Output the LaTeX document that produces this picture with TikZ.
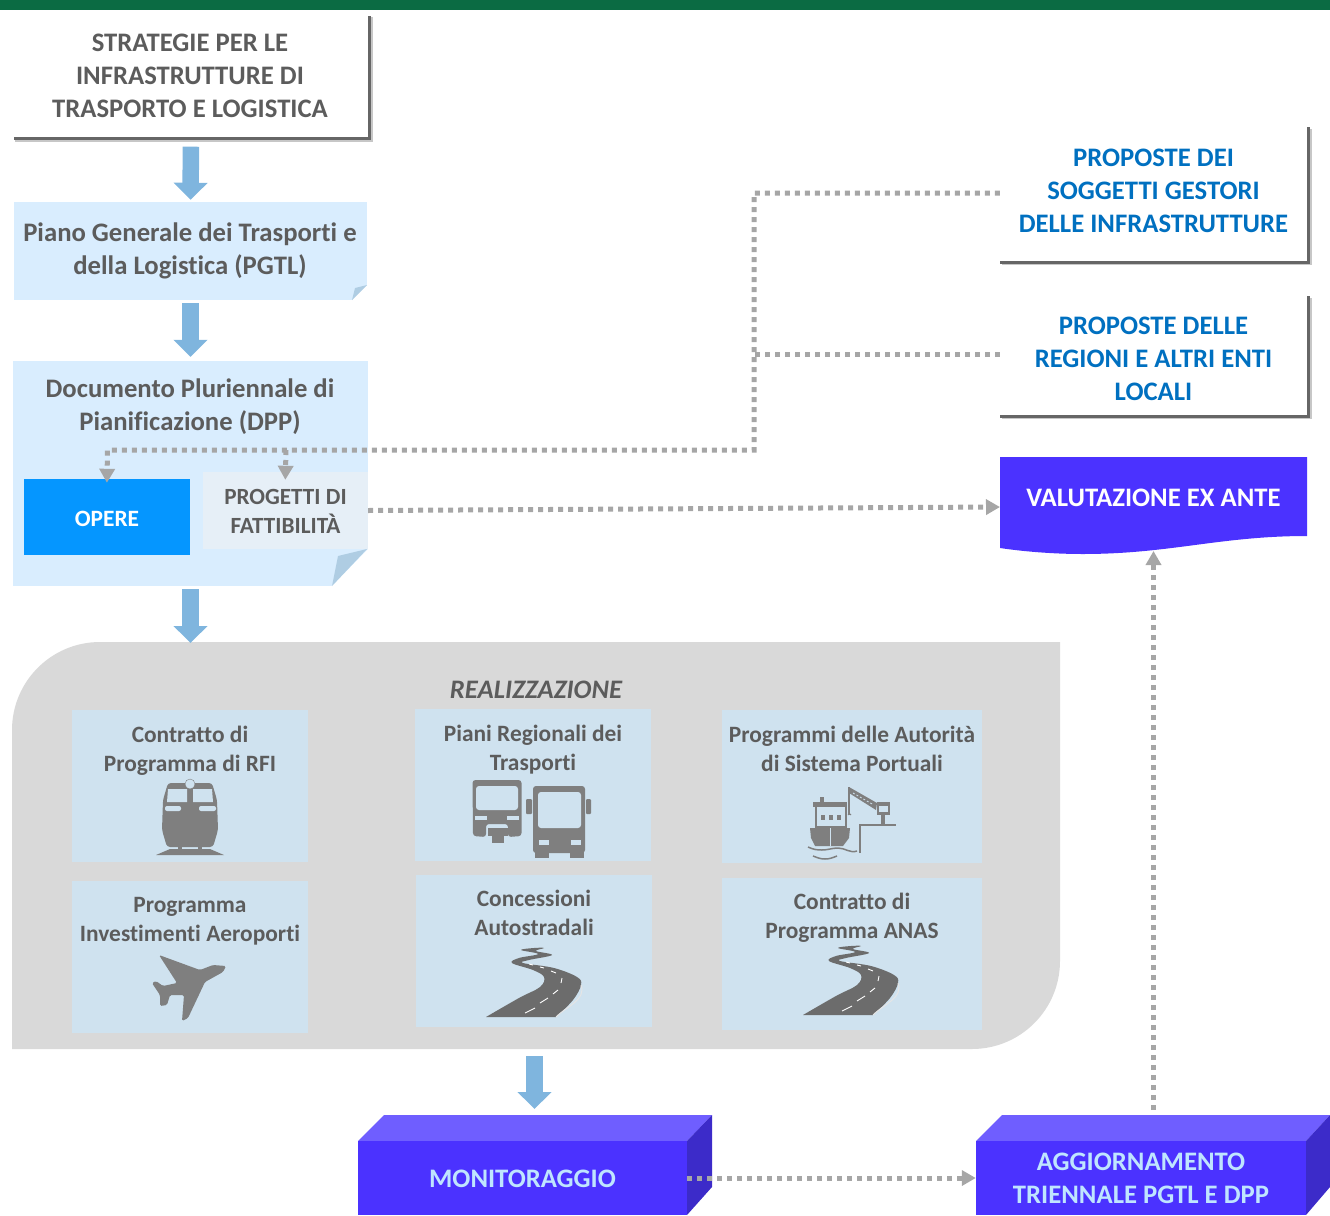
\documentclass[tikz,border=0pt]{standalone}
\usepackage{fontspec}
\setmainfont[Ligatures=NoCommon]{Carlito}
\usetikzlibrary{arrows.meta,shadows}

\definecolor{topgreen}{HTML}{0B6B43}
\definecolor{txtgray}{HTML}{5C5C5C}
\definecolor{txtblue}{HTML}{0070C0}
\definecolor{notefill}{HTML}{D9EDFE}
\definecolor{foldblue}{HTML}{AFCDE3}
\definecolor{arrowblue}{HTML}{7FB5DE}
\definecolor{operefill}{HTML}{0596FF}
\definecolor{progfill}{HTML}{E6EFF7}
\definecolor{violetfront}{HTML}{4B32FF}
\definecolor{violettop}{HTML}{6F5EFF}
\definecolor{violetside}{HTML}{3C2BC9}
\definecolor{boxtxt}{HTML}{BFE5FF}
\definecolor{regiongray}{HTML}{D9D9D9}
\definecolor{cellblue}{HTML}{CFE2EF}
\definecolor{icongray}{HTML}{7F7F7F}
\definecolor{dotgray}{HTML}{A6A6A6}

% Icons, in picture coordinates
\newcommand{\trainicon}{
    \fill[icongray, rounded corners=3pt] (168,783) -- (212,783) -- (217,800) -- (218,830) -- (213,847) -- (167,847) -- (162,830) -- (163,800) -- cycle;
    \fill[cellblue] (168,789) -- (187,789) -- (187,802) -- (167,802) -- cycle;
    \fill[cellblue] (193,789) -- (212,789) -- (213,802) -- (193,802) -- cycle;
    \fill[cellblue, rounded corners=2pt] (165,806) rectangle (181,811);
    \fill[cellblue, rounded corners=2pt] (199,806) rectangle (216,811);
    \draw[icongray, fill=cellblue] (190,784) circle (5);
    \fill[icongray] (156,855) -- (170,849) -- (210,849) -- (224,855) -- cycle;
    \fill[icongray] (178,846) rectangle (182,851);
    \fill[icongray] (198,846) rectangle (202,851);
}
\newcommand{\busicon}{
    \fill[icongray, rounded corners=3pt] (472.5,780) -- (521.5,780) -- (521.5,836) -- (508,837) -- (508,824) -- (486,824) -- (486,837) -- (473,836) -- cycle;
    \fill[cellblue, rounded corners=3pt] (476,786) rectangle (518,810);
    \fill[cellblue] (475,816) rectangle (487,820);
    \fill[cellblue] (507,816) rectangle (519,820);
    \fill[icongray] (488,828) rectangle (508,836);
    \fill[icongray] (492,836) rectangle (504,843);
    \fill[icongray, rounded corners=3pt] (533,786) rectangle (585,853);
    \fill[icongray] (535,850) rectangle (549,858);
    \fill[icongray] (570,850) rectangle (584,858);
    \fill[icongray, rounded corners=1pt] (526,799) rectangle (532,814);
    \fill[icongray, rounded corners=1pt] (586,799) rectangle (591,814);
    \fill[cellblue, rounded corners=3pt] (538,792) rectangle (581,828);
    \fill[cellblue] (539,840) rectangle (549,845);
    \fill[cellblue] (571,840) rectangle (581,845);
}
\newcommand{\shipicon}{
    \fill[icongray] (810,828) -- (850,828) -- (849,838) -- (843,846) -- (815,846) -- (811,838) -- cycle;
    \draw[cellblue, line width=1pt] (830,828) -- (830,846);
    \fill[icongray] (813,802) rectangle (847,807);
    \fill[icongray] (820,797) rectangle (824,802);
    \draw[icongray, line width=2pt] (816,807) -- (816,827) -- (846,827) -- (846,807);
    \foreach \wx in {821,829,837}
        \fill[icongray] (\wx,815) rectangle ++(4,5);
    \draw[icongray, line width=1.5pt] (808,847) to[out=-25,in=180] (822,850) to[out=0,in=180] (838,848) to[out=0,in=200] (857,851);
    \draw[icongray, line width=1.5pt] (813,856) to[out=-20,in=180] (825,859) to[out=0,in=200] (837,856);
    % crane on the quay
    \draw[icongray, line width=2pt] (860,853) -- (860,825) -- (896,825);
    \fill[icongray] (881,815) rectangle (885,825);
    \fill[icongray] (877,802) rectangle (890,815);
    \fill[cellblue] (879,806) rectangle (888,812);
    \draw[icongray, line width=1.2pt] (849,787) -- (849,815);
    \draw[icongray, line width=1pt] (851,815) arc (0:-180:1.5);
    \fill[icongray] (849,787) -- (877,803) -- (876,810) -- (849,793) -- cycle;
    \draw[cellblue, line width=0.8pt, dash pattern=on 2pt off 2pt] (853,793) -- (873,804.5);
}
\newcommand{\planeicon}{
    \fill[icongray, rounded corners=1.5pt] (226,966) -- (213,965) -- (200,970) -- (159,955) -- (177,983) -- (163,986) -- (156,981) -- (152,983) -- (160,995) -- (160,1006) -- (167,1005) -- (170,995) -- (184,995) -- (182,1021) -- (188,1018) -- (205,982) -- (223,972) -- cycle;
}
\newcommand{\roadicon}[1]{
    \begin{scope}[shift={#1}]
        \fill[icongray!85!black] plot[smooth, tension=0.6] coordinates {(486,1017) (519,998) (540,987) (544,977) (533,970) (512,963) (519,958) (538,954) (521,950) (534,948) (544,948) (536,951) (552,955) (529,960) (523,963) (554,968) (577,977) (581,985) (573,1000) (556,1017)} -- cycle;
        \draw[white!80!icongray, line width=1pt] (581,985) to[out=-70,in=45] (556,1017);
        \draw[white, line width=0.9pt] (525,1013) -- (535,1008) (540,1003) -- (548,998) (553,994) -- (558,990) (561,983) -- (562,978) (556,973) -- (551,971) (544,968) -- (540,967) (533,965) -- (529,964);
    \end{scope}
}

\begin{document}
\begin{tikzpicture}[x=1pt, y=-1pt,
    font=\bfseries\fontsize{26.7}{33}\selectfont, text=txtgray,
    box/.style={inner sep=0pt, align=center},
    whitebox/.style={box, fill=white,
        drop shadow={shadow xshift=3pt, shadow yshift=-4pt, shadow scale=1.01, fill=black!22, opacity=1},
        drop shadow={shadow xshift=1.5pt, shadow yshift=-2.5pt, shadow scale=1.01, fill=black!60, opacity=1}},
    notebox/.style={box, fill=notefill},
    cellbox/.style={box, fill=cellblue, minimum height=152pt},
    celltext/.style={box, font=\bfseries\fontsize{23.4}{29}\selectfont},
    solidbox/.style={box, fill=violetfront, text=boxtxt, minimum height=74pt, minimum width=329pt},
    blockarrow/.style={draw=arrowblue, line width=16.5pt, -{Triangle[length=17pt,width=33pt]}},
    dotline/.style={draw=dotgray, line width=5pt, dash pattern=on 5pt off 5pt},
    dotarrow/.style={dotline, -{Triangle[length=14pt,width=15pt]}}]

    \useasboundingbox (0,0) rectangle (1330,1215);
    \fill[topgreen] (0,0) rectangle (1330,10);

    % Left column
    \node[whitebox, minimum width=354pt, minimum height=123pt] (strat) at (191,75.5) {};
    \node[box] (strattxt) at (190,75.5) {STRATEGIE PER LE\\INFRASTRUTTURE DI\\TRASPORTO E LOGISTICA};
    \node[notebox, minimum width=353pt, minimum height=98pt] (pgtl) at (190.5,251) {};
    \node[box] (pgtltxt) at (190,251) {Piano Generale dei Trasporti e\\della Logistica (PGTL)};
    \fill[white] (352,300) -- (367,285) -- (367.5,300.5) -- cycle;
    \fill[foldblue] (352,300) -- (367,285) -- (355,288) -- cycle;

    \node[notebox, minimum width=355pt, minimum height=225pt] (dpp) at (190.5,473.5) {};
    \node[box] (dpptxt) at (190,407) {Documento Pluriennale di\\Pianificazione (DPP)};
    \fill[white] (332,586) -- (368,549) -- (368.5,586.5) -- cycle;
    \fill[foldblue] (332,586) -- (367,549) -- (338,556) -- cycle;

    \node[box, fill=operefill, minimum width=166pt, minimum height=76pt] (opere) at (107,517) {};
    \node[box, text=white, font=\bfseries\fontsize{23.4}{29}\selectfont] (operetxt) at (107,519) {OPERE};
    \node[box, fill=progfill, minimum width=165pt, minimum height=77pt] (prog) at (285.5,510.5) {};
    \node[box, font=\bfseries\fontsize{23.2}{29}\selectfont] (progtxt) at (285.5,511) {PROGETTI DI\\FATTIBILITÀ};

    % Grey area
    \fill[regiongray] (12,730) arc (180:270:88) -- (1060,642) -- (1060,961) arc (0:90:88) -- (12,1049) -- cycle;
    \node[box, font=\bfseries\itshape\fontsize{26.7}{33}\selectfont] (realiz) at (536,690) {REALIZZAZIONE};
    \coordinate (regiontop) at (190.5,642);
    \coordinate (regionbot) at (534.5,1049);

    \node[cellbox, minimum width=236pt] (rfi) at (190,786) {};
    \node[cellbox, minimum width=236pt] (piani) at (533,785) {};
    \node[cellbox, minimum width=260pt, minimum height=153pt] (port) at (852,786.5) {};
    \node[cellbox, minimum width=236pt] (aero) at (190,957) {};
    \node[cellbox, minimum width=236pt] (conc) at (534,951) {};
    \node[cellbox, minimum width=260pt] (anas) at (852,954) {};

    \node[celltext] (rfitxt) at (190,751) {Contratto di\\Programma di RFI};
    \node[celltext] (pianitxt) at (533,750) {Piani Regionali dei\\Trasporti};
    \node[celltext] (porttxt) at (852,749) {Programmi delle Autorità\\di Sistema Portuali};
    \node[celltext] (aerotxt) at (190,921) {Programma\\Investimenti Aeroporti};
    \node[celltext] (conctxt) at (534,913) {Concessioni\\Autostradali};
    \node[celltext] (anastxt) at (852,918) {Contratto di\\Programma ANAS};

    \trainicon
    \busicon
    \shipicon
    \planeicon
    \roadicon{(0,0)}
    \roadicon{(317,-2)}

    % Right column
    \node[whitebox, minimum width=307pt, minimum height=135pt] (prop1) at (1153.5,193) {};
    \node[box, text=txtblue] (prop1txt) at (1153.5,190.5) {PROPOSTE DEI\\SOGGETTI GESTORI\\DELLE INFRASTRUTTURE};
    \node[whitebox, minimum width=307pt, minimum height=120pt] (prop2) at (1153.5,354.5) {};
    \node[box, text=txtblue] (prop2txt) at (1153.5,358.5) {PROPOSTE DELLE\\REGIONI E ALTRI ENTI\\LOCALI};

    \fill[violetfront] (1000,457) -- (1307,457) -- (1307,536) .. controls (1220,536) and (1170,554) .. (1083,554) .. controls (1050,554) and (1020,551) .. (1000,548) -- cycle;
    \node[box, text=white] (val) at (1153.5,498) {VALUTAZIONE EX ANTE};
    \coordinate (valwest) at (1000,507);
    \coordinate (valbot) at (1153.5,551);

    % Boxes at the bottom
    \fill[violettop] (358,1141) -- (384,1115) -- (712,1115) -- (687,1141) -- cycle;
    \fill[violetside] (687,1141) -- (712,1115) -- (712,1187) -- (687,1215) -- cycle;
    \node[solidbox] (mon) at (522.5,1178) {};
    \node[box, text=boxtxt] (montxt) at (522.5,1179) {MONITORAGGIO};
    \fill[violettop] (976,1141) -- (1002,1115) -- (1330,1115) -- (1306,1141) -- cycle;
    \fill[violetside] (1306,1141) -- (1330,1115) -- (1330,1187) -- (1306,1215) -- cycle;
    \node[solidbox, minimum width=330pt] (agg) at (1141,1178) {};
    \node[box, text=boxtxt] (aggtxt) at (1141,1178) {AGGIORNAMENTO\\TRIENNALE PGTL E DPP};
    \coordinate (montop) at (534.5,1115);
    \coordinate (aggtop) at (1153.5,1115);

    % Block arrows
    \draw[blockarrow, shorten <=9.5pt, shorten >=2pt] (strat.south) -- (pgtl.north);
    \draw[blockarrow, shorten <=3pt, shorten >=4pt] (pgtl.south) -- (dpp.north);
    \draw[blockarrow, shorten <=3pt, shorten >=-1pt] (dpp.south) -- (regiontop);
    \draw[blockarrow, shorten <=7pt, shorten >=6pt] (regionbot) -- (montop);

    % Dotted connectors
    \coordinate (bendright) at (754,450);
    \coordinate (bendopere) at (107.5,450);
    \coordinate (bendprog) at (286,450);
    \draw[dotarrow, shorten >=-4pt] (prop1.west) -| (bendright) -- (bendopere) -- (opere.north);
    \draw[dotline] (prop2.west) -- (prop2.west -| bendright);
    \draw[dotarrow, shorten >=-8pt] (bendprog) -- (prog.north);
    \draw[dotarrow] (prog.east) -- (valwest);
    \draw[dotarrow, shorten <=5pt] (aggtop) -- (valbot);
    \draw[dotarrow] (mon.east) -- (agg.west);
\end{tikzpicture}
\end{document}
